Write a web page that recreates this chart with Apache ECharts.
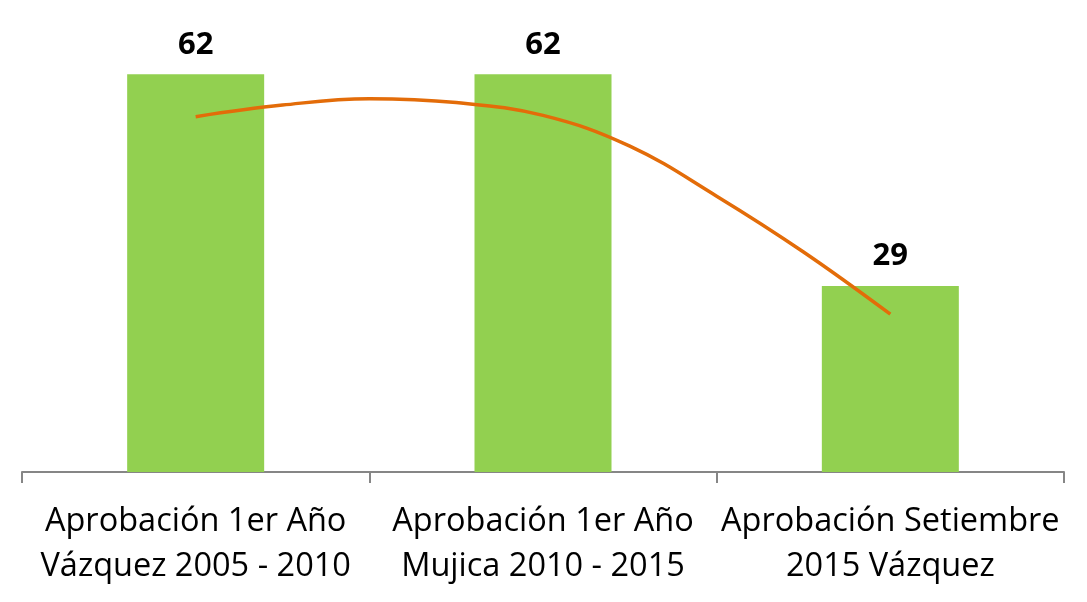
<!DOCTYPE html>
<html>
<head>
    <meta charset="utf-8">
    <title>Aprobacion</title>
    <script src="https://cdn.jsdelivr.net/npm/echarts@6/dist/echarts.min.js"></script>
</head>
<body style="margin:0;background:#fff;">
    <div id="main" style="width:1087px;height:602px;"></div>
    <script type="text/javascript">

    var categories = [
        'Aprobación 1er Año\nVázquez 2005 - 2010',
        'Aprobación 1er Año\nMujica 2010 - 2015',
        'Aprobación Setiembre\n2015 Vázquez'
    ];
    var barValues = [62, 62, 29];

    // trend curve (x in category units, 0 = first bar)
    var trendX = [0, 0.25, 0.5, 0.75, 1.0, 1.25, 1.5, 1.75, 2.0];
    var trendY = [55.4, 57.2, 58.2, 57.6, 55.6, 50.8, 43.0, 34.3, 24.6];

    var trend = [];
    for (var i = 0; i < trendX.length; i++) {
        trend.push([trendX[i], trendY[i]]);
    }

    var myChart = echarts.init(document.getElementById('main'));

    var option = {
        animation: false,
        grid: { left: 22, right: 23, top: 23, bottom: 130 },
        xAxis: [{
            type: 'category',
            data: categories,
            axisLine: { lineStyle: { color: '#868686', width: 2 } },
            axisTick: { show: true, length: 11, lineStyle: { color: '#868686', width: 2 } },
            axisLabel: {
                color: '#000',
                fontFamily: 'Open Sans',
                fontSize: 32.5,
                lineHeight: 45,
                margin: 27,
                interval: 0
            }
        }, {
            type: 'value',
            min: -0.5,
            max: 2.5,
            show: false
        }],
        yAxis: {
            type: 'value',
            min: 0,
            max: 70,
            show: false
        },
        series: [{
            type: 'bar',
            data: barValues,
            barWidth: 137,
            itemStyle: { color: '#92D050' },
            label: {
                show: true,
                position: 'top',
                distance: 14,
                color: '#000',
                fontWeight: 'bold',
                fontFamily: 'Open Sans',
                fontSize: 31
            }
        }, {
            type: 'line',
            xAxisIndex: 1,
            data: trend,
            smooth: 0.4,
            symbol: 'none',
            lineStyle: { color: '#E36C09', width: 3.5 }
        }]
    };

    myChart.setOption(option);
    </script>
</body>
</html>
